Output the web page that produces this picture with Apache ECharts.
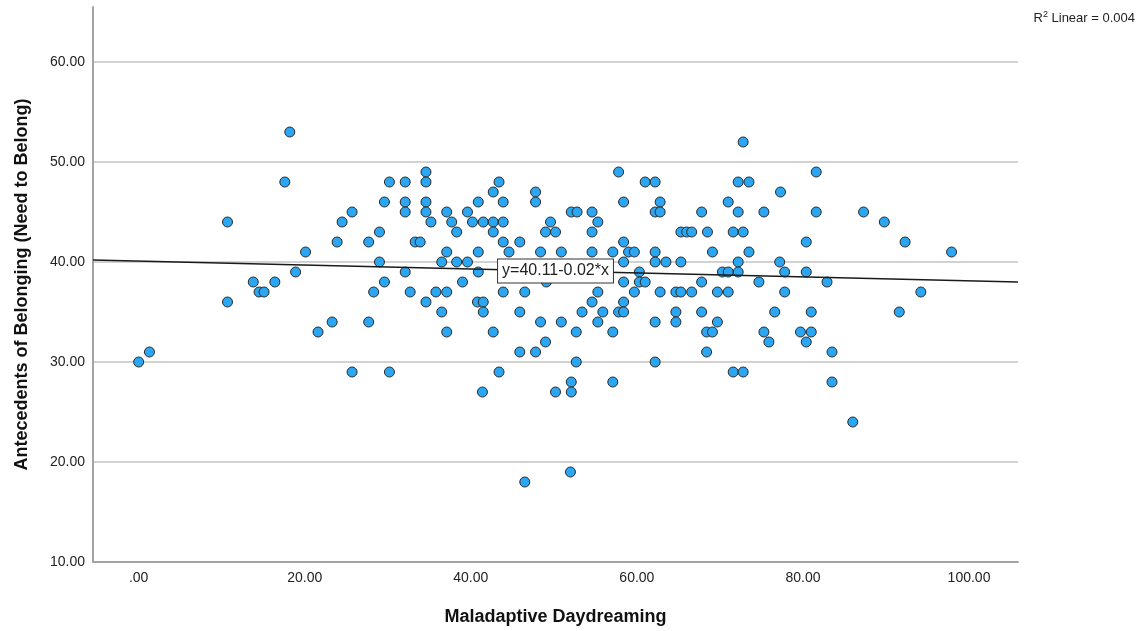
<!DOCTYPE html>
<html>
<head>
<meta charset="utf-8">
<script src="https://cdn.jsdelivr.net/npm/echarts@6/dist/echarts.min.js"></script>
<style>
  html, body { margin: 0; padding: 0; background: #fff; }
  #chart { width: 1143px; height: 631px; }
</style>
</head>
<body>
<div id="chart"></div>
<script>
"use strict";

// scores: x = Maladaptive Daydreaming, y = Need to Belong
var belongValues = [53, 52, 49, 48, 47, 46, 45, 44, 43, 42, 41, 40, 39, 38, 37, 36, 35, 34, 33, 32, 31, 30, 29, 28, 27, 24, 19, 18];
var daydreamByBelong = [
    [18.2],
    [72.8],
    [34.6, 57.8, 81.6],
    [17.6, 30.2, 32.1, 34.6, 43.4, 61.0, 62.2, 72.2, 73.5],
    [42.7, 47.8, 77.3],
    [29.6, 32.1, 34.6, 40.9, 43.9, 47.8, 58.4, 62.8, 71.0],
    [25.7, 32.1, 34.6, 37.1, 39.6, 52.1, 52.8, 54.6, 62.2, 62.8, 67.8, 72.2, 75.3, 81.6, 87.3],
    [10.7, 24.5, 35.2, 37.7, 40.2, 41.5, 42.7, 43.9, 49.6, 55.3, 89.8],
    [29.0, 38.3, 42.7, 49.0, 50.2, 54.6, 65.3, 66.0, 66.6, 68.5, 71.6, 72.8],
    [23.9, 27.7, 33.3, 33.9, 43.9, 45.9, 58.4, 80.4, 92.3],
    [20.1, 37.1, 40.9, 44.6, 48.4, 50.9, 54.6, 57.1, 59.0, 59.7, 62.2, 69.1, 73.5, 97.9],
    [29.0, 36.5, 38.3, 39.6, 58.4, 62.2, 63.5, 65.3, 72.2, 77.2],
    [18.9, 32.1, 40.9, 60.3, 70.3, 71.0, 72.2, 77.8, 80.4],
    [13.8, 16.4, 29.6, 39.0, 49.1, 58.4, 60.3, 61.0, 67.8, 74.7, 82.9],
    [14.5, 15.1, 28.3, 32.7, 35.8, 37.1, 43.9, 46.5, 55.3, 59.7, 62.8, 64.7, 65.3, 66.6, 69.7, 71.0, 77.8, 94.2],
    [10.7, 34.6, 40.8, 41.5, 54.6, 58.4],
    [36.5, 41.5, 45.9, 53.4, 55.9, 57.8, 58.4, 64.7, 67.8, 76.6, 81.0, 91.6],
    [23.3, 27.7, 48.4, 50.9, 55.3, 62.2, 64.7, 69.7],
    [21.6, 37.1, 42.7, 52.7, 57.1, 68.4, 69.1, 75.3, 79.7, 81.0],
    [49.0, 75.9, 80.4],
    [1.3, 45.9, 47.8, 68.4, 83.5],
    [0.0, 52.7, 62.2],
    [25.7, 30.2, 43.4, 71.6, 72.8],
    [52.1, 57.1, 83.5],
    [41.4, 50.2, 52.1],
    [86.0],
    [52.0],
    [46.5]
];

// fit line end points read at the plot edges
var fitLine = [[-5.5, 40.2], [105.9, 38.0]];
var fitLabelAt = [50.2, 39.1];
var fitLabel = "y=40.11-0.02*x";

var xTicks = [0, 20, 40, 60, 80, 100];
var yTicks = [10, 20, 30, 40, 50, 60];

var points = [];
belongValues.forEach(function (b, i) {
    daydreamByBelong[i].forEach(function (d) {
        points.push([d, b]);
    });
});

var fontFamily = '"Liberation Sans", Arial, sans-serif';

var myChart = echarts.init(document.getElementById('chart'), null, { renderer: 'canvas' });

var option = {
    animation: false,
    backgroundColor: '#ffffff',
    grid: {
        left: 93, right: 125, top: 7, bottom: 69,
        containLabel: false,
        outerBoundsMode: 'none'
    },
    xAxis: {
        type: 'value',
        min: -5.5,
        max: 105.9,
        name: 'Maladaptive Daydreaming',
        nameLocation: 'middle',
        nameGap: 46,
        nameTextStyle: { fontFamily: fontFamily, fontSize: 18, fontWeight: 'bold', color: '#111' },
        axisLine: { show: true, onZero: false, lineStyle: { color: '#a3a3a3', width: 2 } },
        axisTick: { show: false },
        splitLine: { show: false },
        axisLabel: {
            customValues: xTicks,
            margin: 9,
            fontFamily: fontFamily,
            fontSize: 14,
            color: '#222',
            formatter: function (v) {
                var s = v.toFixed(2);
                return s.indexOf('0.') === 0 ? s.slice(1) : s;
            }
        }
    },
    yAxis: {
        type: 'value',
        min: 10,
        max: 65.5,
        interval: 10,
        name: 'Antecedents of Belonging (Need to Belong)',
        nameLocation: 'middle',
        nameGap: 62,
        nameTextStyle: { fontFamily: fontFamily, fontSize: 18, fontWeight: 'bold', color: '#111' },
        axisLine: { show: true, onZero: false, lineStyle: { color: '#a3a3a3', width: 2 } },
        axisTick: { show: false },
        splitLine: {
            show: true,
            showMinLine: false,
            showMaxLine: false,
            lineStyle: { color: '#d2d2d2', width: 2 }
        },
        axisLabel: {
            customValues: yTicks,
            margin: 8,
            fontFamily: fontFamily,
            fontSize: 14,
            color: '#222',
            formatter: function (v) { return v.toFixed(2); }
        }
    },
    series: [
        {
            name: 'fit',
            type: 'line',
            data: fitLine,
            symbol: 'none',
            silent: true,
            z: 3,
            lineStyle: { color: '#1a1a1a', width: 1.5 },
            markPoint: {
                symbol: 'rect',
                symbolSize: 0,
                silent: true,
                data: [{
                    coord: fitLabelAt,
                    label: {
                        show: true,
                        position: 'inside',
                        formatter: fitLabel,
                        fontFamily: fontFamily,
                        fontSize: 16,
                        color: '#222',
                        backgroundColor: '#ffffff',
                        borderColor: '#333',
                        borderWidth: 1,
                        padding: [4, 4, 3, 4]
                    }
                }]
            }
        },
        {
            name: 'points',
            type: 'scatter',
            data: points,
            symbol: 'circle',
            symbolSize: 10,
            z: 2,
            itemStyle: {
                color: '#2aa6f2',
                borderColor: '#2b2b2b',
                borderWidth: 1,
                opacity: 1
            }
        }
    ],
    graphic: [{
        type: 'text',
        right: 8,
        top: 10,
        style: {
            text: '{n|R}{s|2}{n| Linear = 0.004}',
            rich: {
                n: { fontFamily: fontFamily, fontSize: 13, fill: '#222', verticalAlign: 'bottom' },
                s: { fontFamily: fontFamily, fontSize: 9, fill: '#222', verticalAlign: 'top', padding: [0, 0, 6, 0] }
            }
        }
    }]
};

myChart.setOption(option);
</script>
</body>
</html>
